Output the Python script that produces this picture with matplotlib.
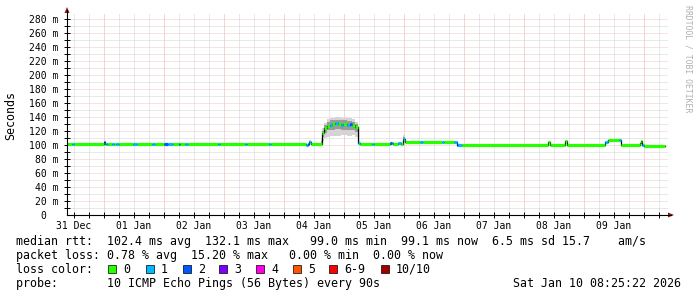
import matplotlib
matplotlib.use('Agg')
import matplotlib.pyplot as plt
from matplotlib.patches import Rectangle, Polygon
from matplotlib.lines import Line2D
import numpy as np

W, H = 697, 297

# median rtt as steps: start hour (since 31 Dec 00:00), median in ms, lost pings of 10
seg_start = [9.2, 11.2, 12.0, 24.0, 24.4, 24.8, 25.4, 27.2, 27.8, 28.8, 30.0, 35.6, 37.2,
             43.2, 44.4, 48.0, 49.6, 51.6, 54.0, 54.4, 56.4, 57.4, 69.6, 70.4, 80.4, 81.2,
             90.0, 90.8, 104.8, 105.6, 106.0, 106.8, 111.2, 112.0, 113.2, 114.4, 115.2,
             116.4, 117.6, 118.8, 119.6, 121.2, 122.4, 123.2, 124.4, 125.4, 126.4, 131.2,
             132.0, 138.4, 139.2, 139.6, 141.6, 142.8, 143.6, 144.4, 150.4, 151.6, 159.2,
             160.0, 164.0, 165.2, 165.6, 167.2, 201.6, 202.4, 208.4, 209.0, 224.4, 225.4,
             230.0, 230.6, 238.4, 238.8, 239.2, 240.0]
seg_median = [102.0, 102.0, 102.0, 104.0, 102.0, 102.0, 102.0, 102.0, 102.0, 102.0, 102.0,
              102.0, 102.0, 102.0, 102.0, 102.0, 102.0, 102.0, 102.0, 102.0, 102.0, 102.0,
              102.0, 102.0, 102.0, 102.0, 102.0, 102.0, 100.5, 101.0, 104.0, 102.0, 117.0,
              124.0, 127.0, 129.0, 130.0, 131.5, 130.0, 129.0, 130.0, 128.5, 129.5, 128.0,
              126.0, 103.0, 102.0, 102.0, 102.0, 103.0, 103.0, 102.0, 103.0, 102.0, 109.0,
              104.5, 104.5, 104.5, 104.5, 104.5, 104.5, 99.5, 99.5, 99.5, 104.5, 99.4,
              105.0, 99.3, 104.0, 107.5, 107.5, 99.3, 102.5, 105.0, 99.5, 99.2]
seg_loss = [0, 1, 0, 2, 0, 1, 0, 1, 0, 1, 0, 1, 0,
            1, 0, 2, 1, 0, 2, 0, 1, 0, 1, 0, 1, 0,
            1, 0, 1, 2, 1, 0, 0, 0, 0, 1, 0,
            1, 0, 1, 0, 1, 2, 0, 0, 1, 0, 1,
            0, 2, 1, 0, 1, 0, 1, 0, 1, 0, 1,
            0, 1, 2, 1, 0, 0, 0, 0, 0, 1, 0,
            1, 0, 0, 0, 1, 0]
t_end = 248.4

# smoke (spread of the single pings) around the 04 Jan hump
smoke_t = [105.6, 106.0, 106.8, 110.8, 111.2, 112.0, 113.2, 114.4, 116.4, 118.8, 121.2,
           123.2, 124.4, 125.4, 143.2, 143.6, 144.4, 145.0]
smoke_lo = [100, 101, 102, 103, 106, 110, 112, 113, 113, 114, 113, 114, 112, 102, 102, 104, 102, 102]
smoke_hi = [103, 107, 102, 108, 124, 132, 137, 139, 140, 139, 138, 137, 133, 102, 102, 114, 102, 102]
core_lo = [101, 102, 102, 103, 111, 117, 121, 122, 123, 122, 121, 121, 118, 102, 102, 106, 102, 102]
core_hi = [102, 105, 102, 105, 120, 129, 133, 135, 136, 135, 134, 133, 130, 102, 102, 111, 102, 102]

day_labels = ['31 Dec', '01 Jan', '02 Jan', '03 Jan', '04 Jan', '05 Jan', '06 Jan',
              '07 Jan', '08 Jan', '09 Jan']
loss_labels = ['0', '1', '2', '3', '4', '5', '6-9', '10/10']
loss_colors = ['#26ff00', '#00b8ff', '#0059ff', '#7e00ff', '#ff00ea', '#ff5500',
               '#ff0000', '#a10000']

MONO = 'DejaVu Sans Mono'
minor_c = '#d2d2d2'
vmajor_c = '#eeaaaa'
hmajor_c = '#eec8c8'
dots = (0, (1, 1))


def fx(x):
    return x / W


def fy(y):
    return 1 - y / H


def loss_index(n):
    if n <= 5:
        return n
    return 6 if n < 10 else 7


fig = plt.figure(figsize=(W / 100, H / 100), dpi=100)
ax = fig.add_axes([fx(67), fy(215), 601 / W, 201 / H])
x0, x1 = 9.2, 249.6
ax.set_xlim(x0, x1)
ax.set_ylim(0, 287)
for s in ax.spines.values():
    s.set_visible(False)

# grid
for h in np.arange(12, x1, 6):
    ax.axvline(h, color=vmajor_c if h % 24 == 0 else minor_c, lw=0.72, ls=dots, zorder=0)
for v in range(10, 287, 10):
    ax.axhline(v, color=hmajor_c if v % 20 == 0 else minor_c, lw=0.72, ls=dots, zorder=0)

# smoke
ax.fill_between(smoke_t, smoke_lo, smoke_hi, step='post', color='#d4d4d4', lw=0, zorder=1)
ax.fill_between(smoke_t, core_lo, core_hi, step='post', color='#9a9a9a', lw=0, zorder=1)

# median line: black stair underneath, loss coloured steps on top
ends = seg_start[1:] + [t_end]
ax.step(seg_start + [t_end], seg_median + [seg_median[-1]], where='post', color='black', lw=0.9, zorder=2)
for t0, t1, m, n in zip(seg_start, ends, seg_median, seg_loss):
    ax.plot([t0, t1], [m, m], color=loss_colors[loss_index(n)], lw=2.3,
            solid_capstyle='butt', zorder=3)

# ticks
ax.set_xticks(np.arange(12, 12 + 24 * len(day_labels), 24), day_labels)
ax.set_xticks(np.arange(12, x1, 6), minor=True)
ax.xaxis.remove_overlapping_locs = False
ax.set_yticks(range(0, 281, 20), [f'{v} m' if v else '0  ' for v in range(0, 281, 20)])
ax.set_yticks(range(10, 287, 10), minor=True)
ax.yaxis.remove_overlapping_locs = False
ax.tick_params(axis='x', which='major', length=0, labelsize=7, pad=4, labelcolor='black')
ax.tick_params(axis='y', which='major', length=0, labelsize=7, pad=6, labelcolor='black')
ax.tick_params(which='minor', direction='inout', length=4, width=0.7)
for lab in ax.get_xticklabels() + ax.get_yticklabels():
    lab.set_family(MONO)
for tk, h in zip(ax.xaxis.get_minor_ticks(), np.arange(12, x1, 6)):
    tk.tick1line.set_color(vmajor_c if h % 24 == 0 else '#b0b0b0')
for tk, v in zip(ax.yaxis.get_minor_ticks(), range(10, 287, 10)):
    tk.tick1line.set_color(hmajor_c if v % 20 == 0 else '#b0b0b0')

# axes with arrows
fig.add_artist(Line2D([fx(67), fx(671)], [fy(215), fy(215)], color='black', lw=0.8))
fig.add_artist(Line2D([fx(67), fx(67)], [fy(215), fy(10)], color='black', lw=0.8))
fig.add_artist(Polygon([[fx(668), fy(212.5)], [fx(674), fy(215)], [fx(668), fy(217.5)]],
                       closed=True, color='#8b1a1a', lw=0))
fig.add_artist(Polygon([[fx(64.5), fy(13)], [fx(67), fy(7)], [fx(69.5), fy(13)]],
                       closed=True, color='#8b1a1a', lw=0))

fig.text(fx(11), fy(115), 'Seconds', rotation=90, ha='center', va='center',
         family=MONO, fontsize=8.4)
fig.text(fx(688), fy(5), 'RRDTOOL / TOBI OETIKER', rotation=270, ha='center', va='top',
         family=MONO, fontsize=5.9, color='#b0b0b0')

# legend block
fig.text(fx(16), fy(245), 'median rtt:  102.4 ms avg  132.1 ms max   99.0 ms min  '
         '99.1 ms now  6.5 ms sd 15.7    am/s', family=MONO, fontsize=8.4, va='baseline')
fig.text(fx(16), fy(259), 'packet loss: 0.78 % avg  15.20 % max   0.00 % min  0.00 % now',
         family=MONO, fontsize=8.4, va='baseline')
fig.text(fx(16), fy(273), 'loss color:', family=MONO, fontsize=8.4, va='baseline')
box_x = [108, 146, 183, 219, 256, 293, 329, 381]
for bx, lab, c in zip(box_x, loss_labels, loss_colors):
    fig.add_artist(Rectangle((fx(bx), fy(272.5)), 8 / W, 8 / H, facecolor=c,
                             edgecolor='black', lw=0.5))
    fig.text(fx(bx + 15), fy(273), lab, family=MONO, fontsize=8.4, va='baseline')
fig.text(fx(16), fy(287), 'probe:       10 ICMP Echo Pings (56 Bytes) every 90s',
         family=MONO, fontsize=8.4, va='baseline')
fig.text(fx(681), fy(287), 'Sat Jan 10 08:25:22 2026', family=MONO, fontsize=8.4,
         va='baseline', ha='right')

fig.savefig('out.png', dpi=100)
